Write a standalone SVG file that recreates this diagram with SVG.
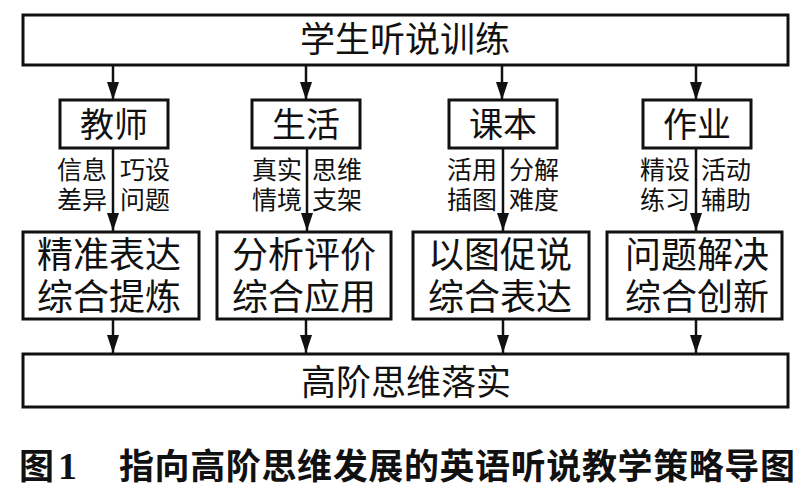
<svg xmlns="http://www.w3.org/2000/svg" width="807" height="489" viewBox="0 0 807 489">
<style>
.box{fill:#fff;stroke:#111;stroke-width:3}
.t{font-family:"Noto Sans CJK SC","Noto Sans CJK JP",sans-serif;fill:#111;text-anchor:middle}
.big{font-size:35px}
.mid{font-size:34px}
.m2{font-size:36px}
.lab{font-size:25px}
.l{text-anchor:end}
.r{text-anchor:start}
.con line{stroke:#111;stroke-width:2.5}
.cap{font-family:"Noto Sans CJK SC",sans-serif;font-weight:bold;font-size:35px;fill:#111}
</style>
<defs>
<marker id="ah" viewBox="0 0 18 12" refX="18" refY="6" markerWidth="18" markerHeight="12" markerUnits="userSpaceOnUse" orient="auto">
<path d="M0,0 L18,6 L0,12 z" fill="#111"/>
</marker>
</defs>
<rect width="807" height="489" fill="#fff"/>
<g id="top"><rect class="box" x="23" y="15" width="765" height="50"/><text class="t big" x="405" y="52">学生听说训练</text></g>
<g id="n1"><rect class="box" x="60" y="100" width="108" height="48"/><text class="t mid" x="114" y="137">教师</text></g>
<g id="n2"><rect class="box" x="252" y="100" width="108" height="48"/><text class="t mid" x="306" y="137">生活</text></g>
<g id="n3"><rect class="box" x="449" y="100" width="108" height="48"/><text class="t mid" x="503" y="137">课本</text></g>
<g id="n4"><rect class="box" x="643" y="100" width="108" height="48"/><text class="t mid" x="697" y="137">作业</text></g>
<g id="m1"><rect class="box" x="23" y="232" width="176" height="87"/><text class="t m2" x="109" y="268">精准表达<tspan x="109" dy="42">综合提炼</tspan></text></g>
<g id="m2"><rect class="box" x="217" y="232" width="174" height="87"/><text class="t m2" x="304" y="268">分析评价<tspan x="304" dy="42">综合应用</tspan></text></g>
<g id="m3"><rect class="box" x="413" y="232" width="176" height="87"/><text class="t m2" x="500" y="268">以图促说<tspan x="500" dy="42">综合表达</tspan></text></g>
<g id="m4"><rect class="box" x="607" y="232" width="175" height="87"/><text class="t m2" x="697" y="268">问题解决<tspan x="697" dy="42">综合创新</tspan></text></g>
<g id="bottom"><rect class="box" x="23" y="354" width="765" height="53"/><text class="t big" x="406" y="395">高阶思维落实</text></g>
<g class="con" id="connectors">
<line x1="113" y1="65" x2="113" y2="100" marker-end="url(#ah)"/>
<line x1="306" y1="65" x2="306" y2="100" marker-end="url(#ah)"/>
<line x1="502" y1="65" x2="502" y2="100" marker-end="url(#ah)"/>
<line x1="696" y1="65" x2="696" y2="100" marker-end="url(#ah)"/>
<line x1="113" y1="148" x2="113" y2="231" marker-end="url(#ah)"/>
<line x1="307" y1="148" x2="307" y2="231" marker-end="url(#ah)"/>
<line x1="503" y1="148" x2="503" y2="231" marker-end="url(#ah)"/>
<line x1="696" y1="148" x2="696" y2="231" marker-end="url(#ah)"/>
<line x1="113" y1="319" x2="113" y2="353" marker-end="url(#ah)"/>
<line x1="306" y1="319" x2="306" y2="353" marker-end="url(#ah)"/>
<line x1="503" y1="319" x2="503" y2="353" marker-end="url(#ah)"/>
<line x1="696" y1="319" x2="696" y2="353" marker-end="url(#ah)"/>
</g>
<g id="labels">
<text class="t lab l" x="107" y="179">信息<tspan x="107" dy="30">差异</tspan></text>
<text class="t lab r" x="120" y="179">巧设<tspan x="120" dy="30">问题</tspan></text>
<text class="t lab l" x="302" y="179">真实<tspan x="302" dy="30">情境</tspan></text>
<text class="t lab r" x="312" y="179">思维<tspan x="312" dy="30">支架</tspan></text>
<text class="t lab l" x="497" y="179">活用<tspan x="497" dy="30">插图</tspan></text>
<text class="t lab r" x="509" y="179">分解<tspan x="509" dy="30">难度</tspan></text>
<text class="t lab l" x="690" y="179">精设<tspan x="690" dy="30">练习</tspan></text>
<text class="t lab r" x="701" y="179">活动<tspan x="701" dy="30">辅助</tspan></text>
</g>
<g id="caption">
<text class="cap" x="19" y="479">图<tspan x="58" font-family="Liberation Serif" font-size="38">1</tspan></text>
<text class="cap" x="119" y="479" textLength="676" lengthAdjust="spacing">指向高阶思维发展的英语听说教学策略导图</text>
</g>
</svg>
